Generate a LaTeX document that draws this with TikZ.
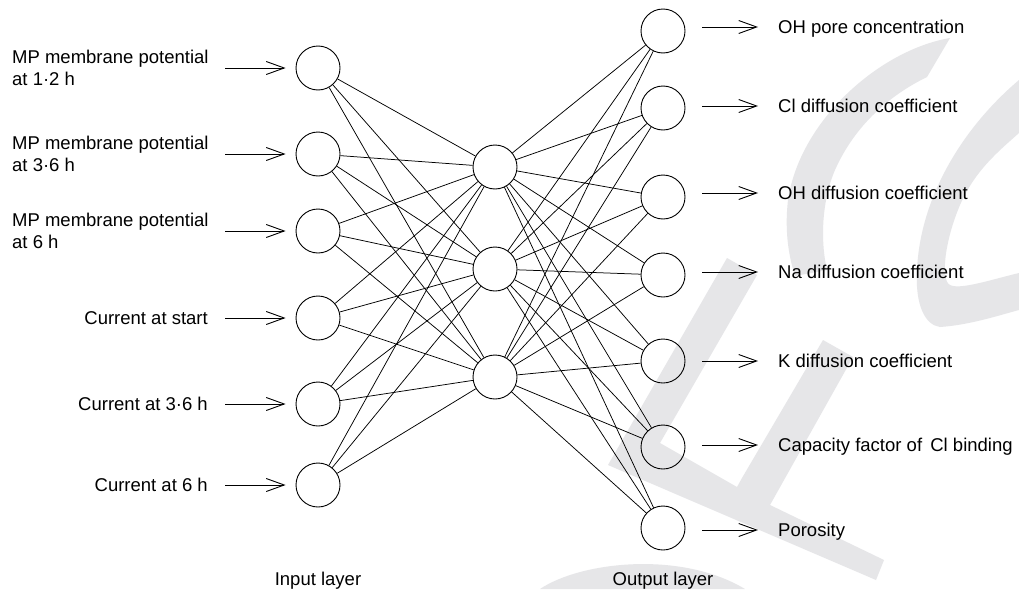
\documentclass[tikz,border=0pt]{standalone}
\usepackage{fontspec}
\setmainfont{Liberation Sans}
\usetikzlibrary{arrows.meta}
\definecolor{wm}{RGB}{230,230,232}
\begin{document}
\begin{tikzpicture}[x=1pt,y=-1pt,
  neuron/.style={draw, circle, minimum size=44pt, inner sep=0pt, line width=0.9pt},
  link/.style={line width=0.75pt},
  arr/.style={line width=0.9pt, -{Straight Barb[length=18pt,width=13pt,line width=0.9pt]}},
  lbl/.style={font=\fontsize{18.5}{21.7}\selectfont, inner sep=0pt, align=left}]
\fill[white] (0,0) rectangle (1019,589);
\useasboundingbox (0,0) rectangle (1019,589);
% watermark
\begin{scope}
\clip (0,0) rectangle (1019,589);
\fill[wm] (950,38) .. controls (880,50) and (800,120) .. (788,200) .. controls (784,235) and (790,260) .. (795,276) -- (827,270) .. controls (820,240) and (822,200) .. (835,170) .. controls (855,125) and (890,95) .. (927,77) -- cycle;
\fill[wm] (1019,80) .. controls (960,130) and (920,200) .. (917,270) .. controls (915,305) and (925,325) .. (940,327) .. controls (970,325) and (1000,315) .. (1019,310) -- (1019,273) .. controls (990,280) and (960,290) .. (950,285) .. controls (940,280) and (945,240) .. (960,205) .. controls (975,170) and (1000,150) .. (1019,133) -- cycle;
\fill[wm] (608,465) -- (727,258) -- (757,275) -- (660,443) -- (737,487) -- (742,478) -- (823,340) -- (853,357) -- (770,505) -- (884,560) -- (876,580) -- cycle;
\fill[wm] (540,589) .. controls (580,562) and (680,550) .. (745,589) -- cycle;
\end{scope}
% input layer
\node[neuron] (i1) at (318,68) {};
\node[neuron] (i2) at (318,154) {};
\node[neuron] (i3) at (318,231) {};
\node[neuron] (i4) at (318,318) {};
\node[neuron] (i5) at (318,404) {};
\node[neuron] (i6) at (318,485) {};
% hidden layer
\node[neuron] (h1) at (495,167) {};
\node[neuron] (h2) at (495,269) {};
\node[neuron] (h3) at (495,377) {};
% output layer
\node[neuron] (o1) at (663,31) {};
\node[neuron] (o2) at (663,108) {};
\node[neuron] (o3) at (663,197) {};
\node[neuron] (o4) at (663,275) {};
\node[neuron] (o5) at (663,361) {};
\node[neuron] (o6) at (663,447) {};
\node[neuron] (o7) at (663,528) {};
% links
\foreach \i in {1,...,6}{\foreach \h in {1,2,3}{\draw[link] (i\i) -- (h\h);}}
\foreach \h in {1,2,3}{\foreach \o in {1,...,7}{\draw[link] (h\h) -- (o\o);}}
% input labels
\node[lbl, anchor=base west] (l1) at (12,85) {MP membrane potential\\at 1·2 h};
\node[lbl, anchor=base west] (l2) at (12,171) {MP membrane potential\\at 3·6 h};
\node[lbl, anchor=base west] (l3) at (12,248) {MP membrane potential\\at 6 h};
\node[lbl, anchor=base east] (l4) at (208,324.3) {Current at start};
\node[lbl, anchor=base east] (l5) at (208,410.6) {Current at 3·6 h};
\node[lbl, anchor=base east] (l6) at (208,491.6) {Current at 6 h};
% input arrows
\foreach \k/\y in {1/68,2/154,3/231,4/318,5/404,6/485}{
  \coordinate (ia\k) at (225,\y);
  \draw[arr, shorten >=10pt] (ia\k) -- (i\k);
}
% output arrows and labels
\foreach \k/\y/\t in {1/27/{OH pore concentration},2/106/{Cl diffusion coefficient},3/193/{OH diffusion coefficient},4/272/{Na diffusion coefficient},5/361/{K diffusion coefficient},6/445/{Capacity factor of\ \,Cl binding},7/530/{Porosity}}{
  \coordinate (oa\k) at (758,\y);
  \draw[arr, shorten <=17pt] (o\k.east |- oa\k) -- (oa\k);
  \node[lbl, anchor=base west] (r\k) at (778,\y+6.6) {\t};
}
% layer captions
\node[lbl, anchor=base] (cin) at (318,585) {Input layer};
\node[lbl, anchor=base] (cout) at (663,585) {Output layer};
\end{tikzpicture}
\end{document}
